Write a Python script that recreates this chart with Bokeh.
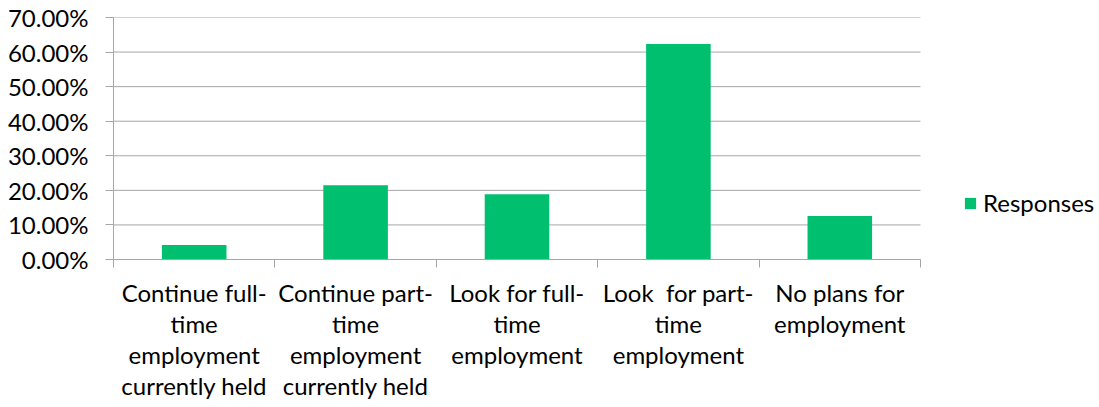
from bokeh.plotting import figure
from bokeh.models import Range1d, FixedTicker, NumeralTickFormatter, Legend, LegendItem, ColumnDataSource
from bokeh.embed import file_html
from bokeh.resources import INLINE

categories = [
    "Continue full-\ntime\nemployment\ncurrently held",
    "Continue part-\ntime\nemployment\ncurrently held",
    "Look for full-\ntime\nemployment",
    "Look\u00a0 for part-\ntime\nemployment",
    "No plans for\nemployment",
]
responses = [0.042, 0.215, 0.189, 0.623, 0.126]
y_ticks = [0.0, 0.1, 0.2, 0.3, 0.4, 0.5, 0.6, 0.7]
series_name = "Responses"

FONT = "Lato"
FSIZE = "24px"
GRID = "#A6A6A6"
BAR = "#00BF6F"

W, H = 1099, 407
LEFT, TOP, AXIS_RIGHT, BOTTOM = 113, 17, 920, 259

n = len(categories)
centers = [i + 0.5 for i in range(n)]
bounds = [float(i) for i in range(n + 1)]
# frame extends to the right edge so the legend can sit there; category axis ends at AXIS_RIGHT
x_end = n * (W - LEFT) / (AXIS_RIGHT - LEFT)

src = ColumnDataSource(dict(x=centers, top=responses, label=categories))
grid_src = ColumnDataSource(dict(x0=[0] * len(y_ticks), x1=[n] * len(y_ticks), y=y_ticks))

p = figure(width=W, height=H, output_backend="svg", toolbar_location=None,
           x_range=Range1d(0, x_end), y_range=Range1d(y_ticks[0], y_ticks[-1]),
           min_border_left=LEFT, min_border_top=TOP, min_border_right=0,
           min_border_bottom=H - BOTTOM)
p.outline_line_color = None
p.background_fill_color = "white"
p.border_fill_color = "white"

p.segment(x0="x0", x1="x1", y0="y", y1="y", source=grid_src, line_color=GRID, line_width=1)
r = p.vbar(x="x", top="top", width=0.4, source=src, fill_color=BAR, line_color=None)

# x axis
xa = p.xaxis[0]
xa.bounds = (0, n)
xa.ticker = FixedTicker(ticks=centers, minor_ticks=bounds)
xa.major_label_overrides = {c: lab for c, lab in zip(centers, categories)}
xa.major_tick_out = 0
xa.major_tick_in = 0
xa.minor_tick_out = 8
xa.minor_tick_in = 0
xa.minor_tick_line_color = GRID
xa.axis_line_color = GRID
xa.major_label_standoff = 10
xa.major_label_text_font = FONT
xa.major_label_text_font_size = FSIZE
xa.major_label_text_color = "#000000"
xa.major_label_text_line_height = 1.07
p.xgrid.grid_line_color = None

# y axis
ya = p.yaxis[0]
ya.ticker = FixedTicker(ticks=y_ticks)
ya.formatter = NumeralTickFormatter(format="0.00%")
ya.major_tick_out = 8
ya.major_tick_in = 0
ya.major_tick_line_color = GRID
ya.minor_tick_line_color = None
ya.axis_line_color = GRID
ya.major_label_standoff = 17
ya.major_label_text_font = FONT
ya.major_label_text_font_size = FSIZE
ya.major_label_text_color = "#000000"
p.ygrid.grid_line_color = None

legend = Legend(items=[LegendItem(label=series_name, renderers=[r])],
                location=(850, 42), padding=0, margin=0, spacing=0,
                border_line_color=None, background_fill_alpha=0,
                glyph_width=14, glyph_height=14, label_standoff=6, label_height=26,
                label_text_font=FONT, label_text_font_size=FSIZE, label_text_color="#000000")
p.add_layout(legend)

open("out.html", "w").write(file_html(p, INLINE))
